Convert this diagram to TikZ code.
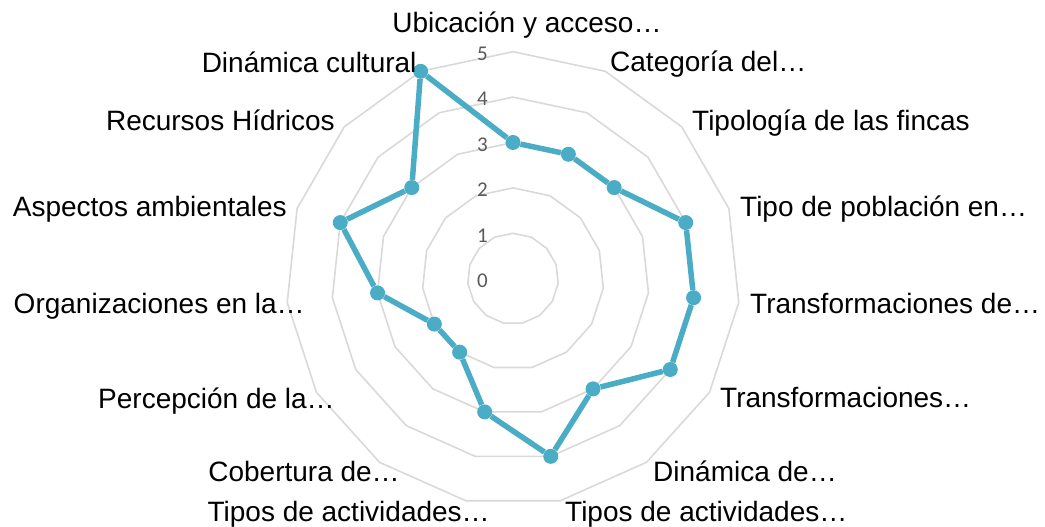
\documentclass[tikz,border=0pt]{standalone}
\usepackage{fontspec}
\setmainfont{Liberation Sans}
\newfontfamily\tickfont{Carlito}
\usetikzlibrary{shapes.geometric}
\definecolor{serie}{HTML}{4BACC6}
\definecolor{rejilla}{HTML}{D9D9D9}
\definecolor{escala}{HTML}{595959}

\begin{document}
\begin{tikzpicture}[x=1pt, y=1pt,
  ring/.style={draw=rejilla, line width=1.6pt, regular polygon, regular polygon sides=15, inner sep=0pt, outer sep=0pt},
  dot/.style={fill=serie, circle, inner sep=0pt, minimum size=15pt},
  serieline/.style={draw=serie, line width=5.5pt},
  tick/.style={font=\tickfont\fontsize{21}{25}\selectfont, text=escala, inner sep=0pt},
  eje/.style={font=\fontsize{28}{34}\selectfont, inner sep=0pt}]
\def\u{45.4}
\useasboundingbox (-513,-248.3) rectangle (532,278.7);
% rejilla
\node [ring, minimum size=90.8pt,  name=r1] at (0,0){};
\node [ring, minimum size=181.6pt, name=r2] at (0,0){};
\node [ring, minimum size=272.4pt, name=r3] at (0,0){};
\node [ring, minimum size=363.2pt, name=r4] at (0,0){};
\node [ring, minimum size=454pt,   name=r5] at (0,0){};
\node [tick, anchor=east, name=t0] at (-25,-2){0};
\node [tick, anchor=east, name=t1] at (-25,\u-2){1};
\node [tick, anchor=east, name=t2] at (-25,2*\u-2){2};
\node [tick, anchor=east, name=t3] at (-25,3*\u-2){3};
\node [tick, anchor=east, name=t4] at (-25,4*\u-2){4};
\node [tick, anchor=east, name=t5] at (-25,5*\u-2){5};
% valores
\node [dot, name=p1]      at (90:3*\u){};
\node [dot, name=p2]      at (66:3*\u){};
\node [dot, name=p3]      at (42:3*\u){};
\node [dot, name=p4]      at (18:4*\u){};
\node [dot, name=p5]      at (-6:4*\u){};
\node [dot, name=p6]      at (-30:4*\u){};
\node [dot, name=p7]      at (-54:3*\u){};
\node [dot, name=p8]      at (-78:4*\u){};
\node [dot, name=p9]      at (-102:3*\u){};
\node [dot, name=p10]     at (-126:2*\u){};
\node [dot, name=p11]     at (-150:2*\u){};
\node [dot, name=p12]     at (-174:3*\u){};
\node [dot, name=p13]     at (162:4*\u){};
\node [dot, name=p14]     at (138:3*\u){};
\node [dot, name=p15]     at (114:5*\u){};
\draw [serieline](p1) -- (p2);
\draw [serieline](p2) -- (p3);
\draw [serieline](p3) -- (p4);
\draw [serieline](p4) -- (p5);
\draw [serieline](p5) -- (p6);
\draw [serieline](p6) -- (p7);
\draw [serieline](p7) -- (p8);
\draw [serieline](p8) -- (p9);
\draw [serieline](p9) -- (p10);
\draw [serieline](p10) -- (p11);
\draw [serieline](p11) -- (p12);
\draw [serieline](p12) -- (p13);
\draw [serieline](p13) -- (p14);
\draw [serieline](p14) -- (p15);
\draw [serieline](p15) -- (p1);
% ejes
\node [eje, anchor=base, name=l1]       at (14,245.7){Ubicación y acceso…};
\node [eje, anchor=base west, name=l2]  at (97,207){Categoría del…};
\node [eje, anchor=base west, name=l3]  at (179,147.7){Tipología de las fincas};
\node [eje, anchor=base west, name=l4]  at (227,62.2){Tipo de población en…};
\node [eje, anchor=base west, name=l5]  at (237,-35.3){Transformaciones de…};
\node [eje, anchor=base west, name=l6]  at (207,-128.6){Transformaciones…};
\node [eje, anchor=base west, name=l7]  at (140,-203){Dinámica de…};
\node [eje, anchor=base west, name=l8]  at (52,-242.3){Tipos de actividades…};
\node [eje, anchor=base east, name=l9]  at (-23,-243){Tipos de actividades…};
\node [eje, anchor=base east, name=l10] at (-113,-203){Cobertura de…};
\node [eje, anchor=base east, name=l11] at (-178,-129.6){Percepción de la…};
\node [eje, anchor=base east, name=l12] at (-208,-34.6){Organizaciones en la…};
\node [eje, anchor=base east, name=l13] at (-226,62){Aspectos ambientales};
\node [eje, anchor=base east, name=l14] at (-178,148){Recursos Hídricos};
\node [eje, anchor=base east, name=l15] at (-96.3,206.4){Dinámica cultural};
\end{tikzpicture}
\end{document}
